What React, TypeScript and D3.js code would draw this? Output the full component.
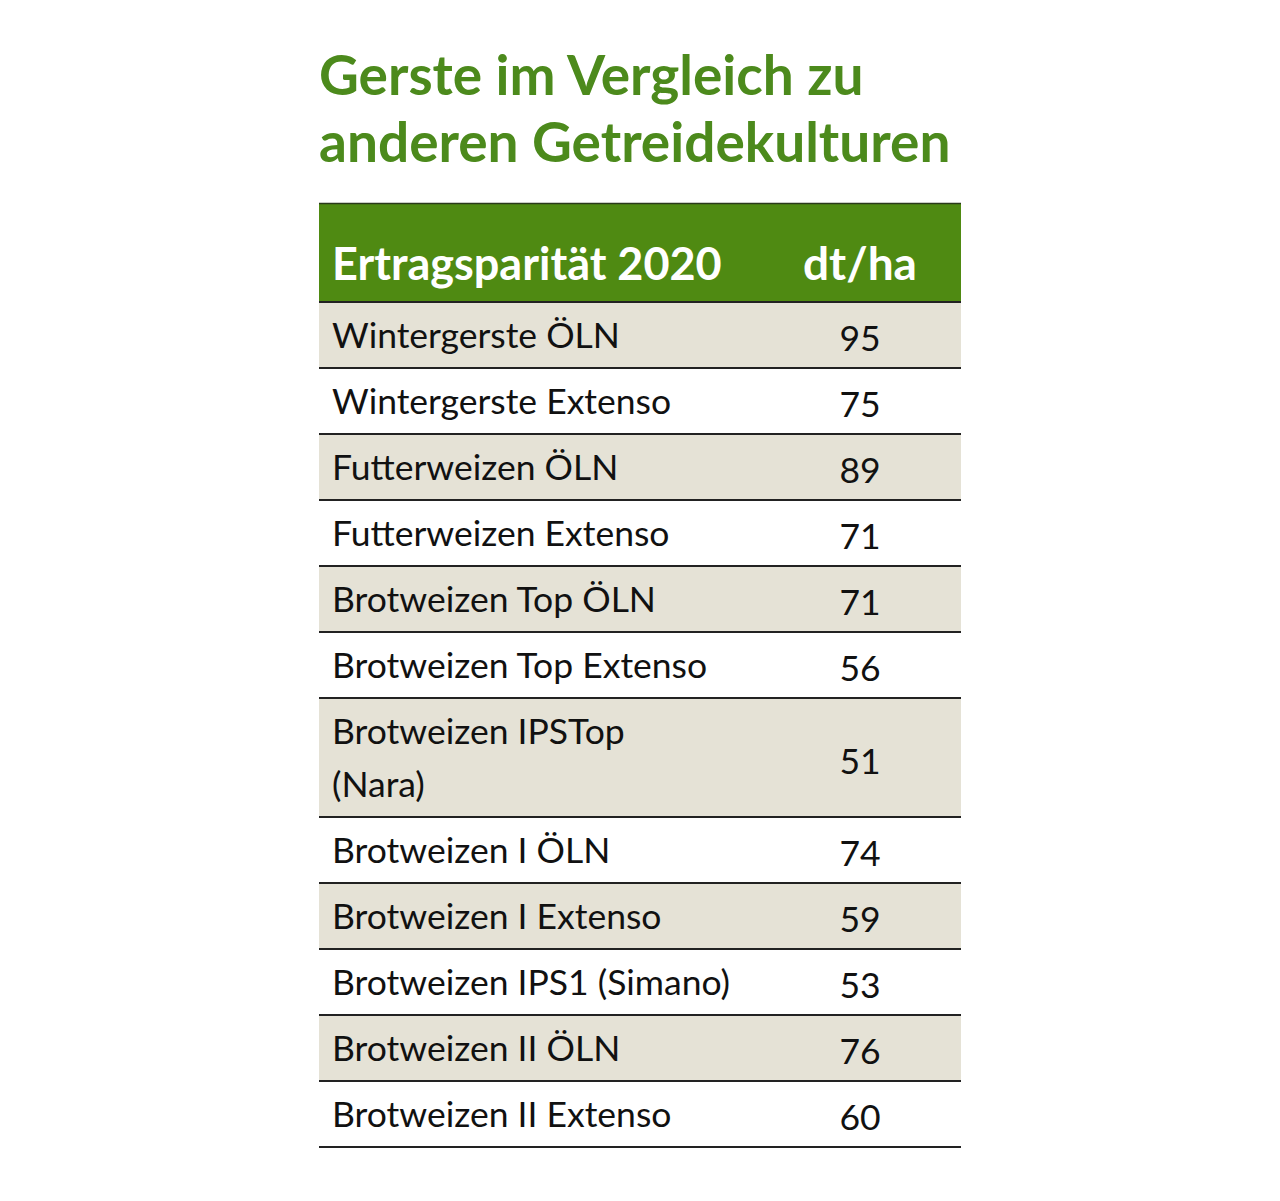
import React from "react";
import * as d3 from "d3";

const titleLines = ["Gerste im Vergleich zu", "anderen Getreidekulturen"];
const headerLabel = "Ertragsparität 2020";
const headerUnit = "dt/ha";
const rowLabels: string[][] = [
  ["Wintergerste ÖLN"],
  ["Wintergerste Extenso"],
  ["Futterweizen ÖLN"],
  ["Futterweizen Extenso"],
  ["Brotweizen Top ÖLN"],
  ["Brotweizen Top Extenso"],
  ["Brotweizen IPSTop", "(Nara)"],
  ["Brotweizen I ÖLN"],
  ["Brotweizen I Extenso"],
  ["Brotweizen IPS1 (Simano)"],
  ["Brotweizen II ÖLN"],
  ["Brotweizen II Extenso"],
];
const rowValues = [95, 75, 89, 71, 71, 56, 51, 74, 59, 53, 76, 60];

const GREEN = "#4f8a12";
const TITLE_GREEN = "#4c8a1c";
const BEIGE = "#e5e2d6";
const FONT = "Lato, 'Open Sans', sans-serif";

export default function App() {
  const left = 319;
  const right = 961;
  const headerTop = 203;
  const headerBottom = 302;
  const unitH = 66;
  const extraLineH = 53;

  const heights = rowLabels.map((l) => unitH + (l.length - 1) * extraLineH);
  const cum = [0, ...d3.cumsum(heights)];
  const total = cum[cum.length - 1];
  const y = d3.scaleLinear().domain([0, total]).range([headerBottom, headerBottom + total]);
  const x = d3.scaleLinear().domain([0, 1]).range([left, right]);
  const valueX = 860;

  return (
    <svg width={1280} height={1201} style={{ display: "block", position: "absolute", left: 0, top: 0 }}>
      <rect width={1280} height={1201} fill="#fff" />
      {titleLines.map((t, i) => (
        <text key={i} x={319} y={95 + i * 67} fill={TITLE_GREEN} fontFamily={FONT} fontWeight={700} fontSize={55}>
          {t}
        </text>
      ))}
      <rect x={x(0)} y={headerTop} width={x(1) - x(0)} height={headerBottom - headerTop} fill={GREEN} />
      <line x1={x(0)} x2={x(1)} y1={headerTop + 0.5} y2={headerTop + 0.5} stroke="#2a3a1a" strokeWidth={1.5} />
      <text x={332} y={280} fill="#fff" fontFamily={FONT} fontWeight={700} fontSize={45}>
        {headerLabel}
      </text>
      <text x={valueX} y={280} fill="#fff" fontFamily={FONT} fontWeight={700} fontSize={46} textAnchor="middle">
        {headerUnit}
      </text>
      {rowLabels.map((lines, i) => {
        const y0 = y(cum[i]);
        const y1 = y(cum[i + 1]);
        const mid = (y0 + y1) / 2;
        const n = lines.length;
        return (
          <g key={i}>
            {i % 2 === 0 && <rect x={x(0)} y={y0} width={x(1) - x(0)} height={y1 - y0} fill={BEIGE} />}
            {lines.map((l, j) => (
              <text
                key={j}
                x={332}
                y={mid + 13 + (j - (n - 1) / 2) * extraLineH}
                fill="#111"
                fontFamily={FONT}
                fontSize={35.5}
              >
                {l}
              </text>
            ))}
            <text x={valueX} y={mid + 16} fill="#111" fontFamily={FONT} fontSize={35.5} textAnchor="middle">
              {rowValues[i]}
            </text>
          </g>
        );
      })}
      {cum.map((c, i) => (
        <line key={i} x1={x(0)} x2={x(1)} y1={y(c)} y2={y(c)} stroke="#222" strokeWidth={2} />
      ))}
    </svg>
  );
}
